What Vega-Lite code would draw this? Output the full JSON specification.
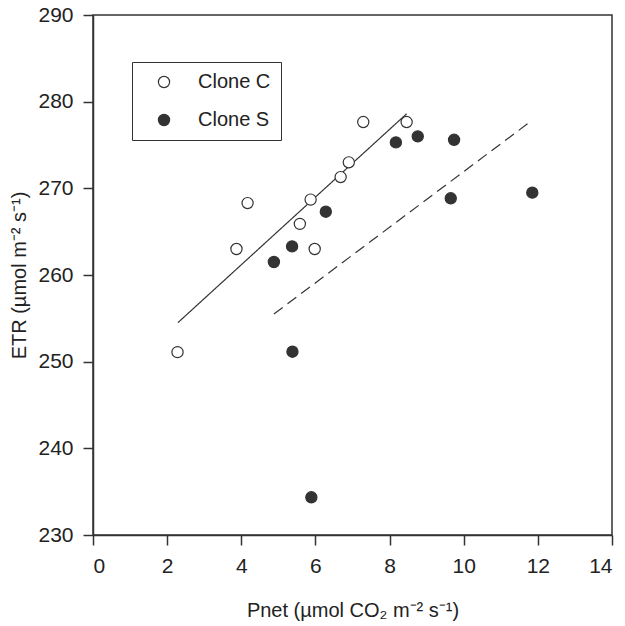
{
  "$schema": "https://vega.github.io/schema/vega-lite/v6.json",
  "width": 519,
  "height": 520,
  "autosize": "none",
  "padding": {"left": 93, "top": 15, "right": 13, "bottom": 91},
  "background": "white",
  "config": {
    "font": "Liberation Sans",
    "view": {"stroke": "#333", "strokeWidth": 1.5},
    "axis": {
      "grid": false,
      "domainColor": "#333",
      "domainWidth": 1.5,
      "tickColor": "#333",
      "tickWidth": 1.5,
      "tickSize": 10,
      "labelFontSize": 21,
      "labelColor": "#222",
      "labelPadding": 10,
      "titleFontSize": 20,
      "titleFontWeight": "normal",
      "titleColor": "#222"
    }
  },
  "datasets": {
    "points": [
      {"clone": "Clone C", "pnet": 2.28, "etr": 251.1},
      {"clone": "Clone C", "pnet": 3.87, "etr": 263.0},
      {"clone": "Clone C", "pnet": 4.17, "etr": 268.3},
      {"clone": "Clone C", "pnet": 5.87, "etr": 268.7},
      {"clone": "Clone C", "pnet": 5.58, "etr": 265.9},
      {"clone": "Clone C", "pnet": 5.98, "etr": 263.0},
      {"clone": "Clone C", "pnet": 6.68, "etr": 271.3},
      {"clone": "Clone C", "pnet": 6.90, "etr": 273.0},
      {"clone": "Clone C", "pnet": 7.29, "etr": 277.65},
      {"clone": "Clone C", "pnet": 8.46, "etr": 277.65},
      {"clone": "Clone S", "pnet": 4.88, "etr": 261.5},
      {"clone": "Clone S", "pnet": 5.37, "etr": 263.3},
      {"clone": "Clone S", "pnet": 6.28, "etr": 267.3},
      {"clone": "Clone S", "pnet": 8.17, "etr": 275.3},
      {"clone": "Clone S", "pnet": 8.76, "etr": 276.0},
      {"clone": "Clone S", "pnet": 9.74, "etr": 275.6},
      {"clone": "Clone S", "pnet": 9.65, "etr": 268.85},
      {"clone": "Clone S", "pnet": 11.85, "etr": 269.5},
      {"clone": "Clone S", "pnet": 5.38, "etr": 251.15},
      {"clone": "Clone S", "pnet": 5.89, "etr": 234.35}
    ],
    "fits": [
      {"series": "fit C", "pnet": 2.29, "etr": 254.5},
      {"series": "fit C", "pnet": 8.46, "etr": 278.6},
      {"series": "fit S", "pnet": 4.88, "etr": 255.5},
      {"series": "fit S", "pnet": 11.83, "etr": 277.8}
    ]
  },
  "encoding": {
    "x": {
      "field": "pnet",
      "type": "quantitative",
      "scale": {"domain": [0, 14], "nice": false, "zero": false},
      "axis": {"values": [0, 2, 4, 6, 8, 10, 12, 14], "title": "Pnet (µmol CO₂ m⁻² s⁻¹)", "titlePadding": 24}
    },
    "y": {
      "field": "etr",
      "type": "quantitative",
      "scale": {"domain": [230, 290], "nice": false, "zero": false},
      "axis": {"values": [230, 240, 250, 260, 270, 280, 290], "title": "ETR (µmol m⁻² s⁻¹)", "titlePadding": 8}
    }
  },
  "layer": [
    {
      "data": {"name": "fits"},
      "mark": {"type": "line", "color": "#333", "strokeWidth": 1.2},
      "encoding": {
        "detail": {"field": "series"},
        "strokeDash": {
          "field": "series",
          "type": "nominal",
          "scale": {"domain": ["fit C", "fit S"], "range": [[1, 0], [11, 6]]},
          "legend": null
        }
      }
    },
    {
      "data": {"name": "points"},
      "mark": {"type": "point", "shape": "circle", "filled": true, "size": 125, "stroke": "#333", "strokeWidth": 1.2, "opacity": 1},
      "encoding": {
        "fill": {
          "field": "clone",
          "type": "nominal",
          "scale": {"domain": ["Clone C", "Clone S"], "range": ["#ffffff", "#333333"]},
          "legend": {
            "title": null,
            "orient": "none",
            "legendX": 39,
            "legendY": 47,
            "strokeColor": "#333",
            "padding": 10,
            "labelFontSize": 20,
            "labelColor": "#222",
            "symbolType": "circle",
            "symbolSize": 125,
            "symbolStrokeColor": "#333",
            "symbolStrokeWidth": 1.2,
            "symbolOffset": 12,
            "labelOffset": 24,
            "rowPadding": 18
          }
        }
      }
    }
  ]
}
